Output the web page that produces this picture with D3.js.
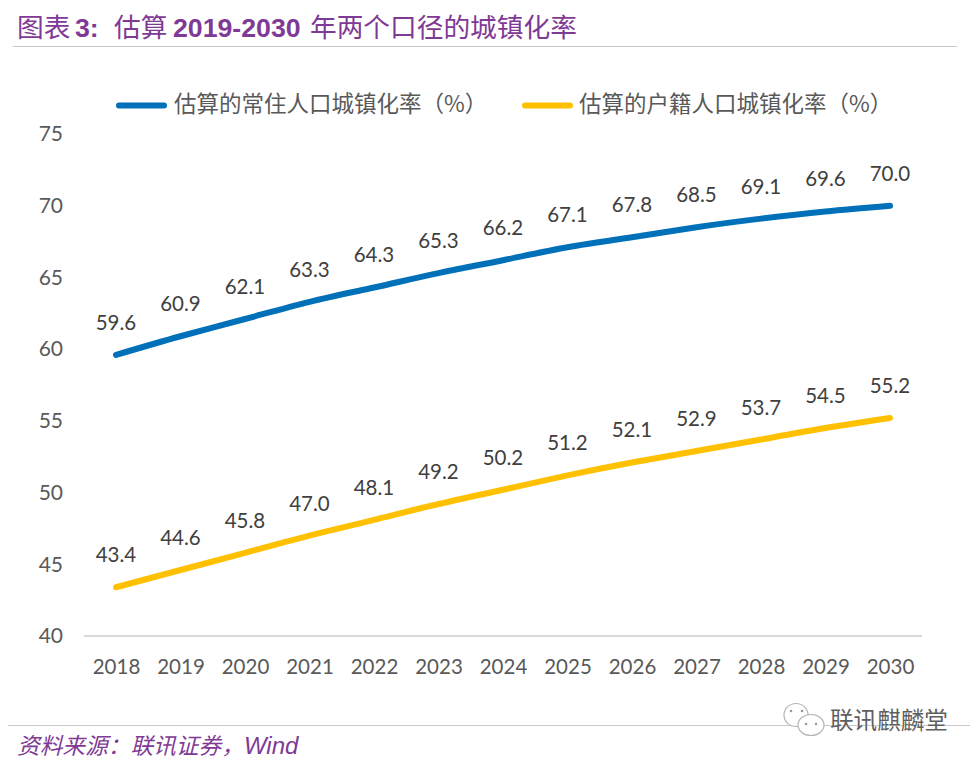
<!DOCTYPE html>
<html><head><meta charset="utf-8">
<script src="https://cdn.jsdelivr.net/npm/d3@7"></script>
<style>html,body{margin:0;padding:0;background:#fff}svg{display:block}</style>
</head><body><svg id="c" width="980" height="765"></svg>
<script>
const years=[2018,2019,2020,2021,2022,2023,2024,2025,2026,2027,2028,2029,2030];
const residentValues=[59.6,60.9,62.1,63.3,64.3,65.3,66.2,67.1,67.8,68.5,69.1,69.6,70.0];
const hukouValues=[43.4,44.6,45.8,47.0,48.1,49.2,50.2,51.2,52.1,52.9,53.7,54.5,55.2];
const yTicks=[40,45,50,55,60,65,70,75];
const residentName="估算的常住人口城镇化率（%）";
const hukouName="估算的户籍人口城镇化率（%）";

const svg=d3.select("#c");
const cjk='"Noto Sans CJK SC","Noto Sans",sans-serif';
const num='Lato,"Open Sans",sans-serif';
const purple="#7f3a96", grey="#595959";
const x=d3.scalePoint().domain(years).range([116,890]);
const y=d3.scaleLinear().domain([40,75]).range([636,134]);

// title
const t=svg.append("text").attr("y",37).attr("fill",purple).attr("font-size",26.7).attr("font-family",cjk);
const latin='"Liberation Sans"';
t.append("tspan").attr("x",17).text("图表");
t.append("tspan").attr("x",75).attr("font-family",latin).attr("font-weight","bold").text("3:");
t.append("tspan").attr("x",114).text("估算");
t.append("tspan").attr("x",173).attr("font-family",latin).attr("font-weight","bold").text("2019-2030");
t.append("tspan").attr("x",310).text("年两个口径的城镇化率");
svg.append("line").attr("x1",13).attr("x2",957).attr("y1",46.5).attr("y2",46.5).attr("stroke","#c8c8c8");

// axes
const yAxis=d3.axisLeft(y).tickValues(yTicks).tickSize(0).tickPadding(0);
const gy=svg.append("g").attr("transform","translate(63,0)").call(yAxis);
gy.select(".domain").remove();
gy.selectAll("text").attr("font-size",21).attr("font-family",num).attr("fill",grey);
svg.append("line").attr("x1",84).attr("x2",922).attr("y1",y(40)).attr("y2",y(40)).attr("stroke","#d9d9d9").attr("stroke-width",2);
const xAxis=d3.axisBottom(x).tickSize(0).tickPadding(0).tickFormat(d3.format("d"));
const gx=svg.append("g").attr("transform","translate(0,658)").call(xAxis);
gx.select(".domain").remove();
gx.selectAll("text").attr("font-size",20.5).attr("font-family",num).attr("fill",grey).attr("dy","0.8em");

// lines
const line=d3.line().x((d,i)=>x(years[i])).y(d=>y(d)).curve(d3.curveNatural);
[[residentValues,"#0070b9"],[hukouValues,"#ffc000"]].forEach(([vals,c])=>{
  svg.append("path").attr("d",line(vals)).attr("fill","none").attr("stroke",c).attr("stroke-width",6).attr("stroke-linecap","round");
  svg.append("g").selectAll("text").data(vals).join("text")
    .attr("x",(d,i)=>x(years[i])).attr("y",d=>y(d)-25)
    .attr("text-anchor","middle").attr("font-size",20.5).attr("font-family",num).attr("fill","#404040")
    .text(d=>d.toFixed(1));
});

// legend
[[119,174,residentName,"#0070b9"],[525,579,hukouName,"#ffc000"]].forEach(([x0,tx,name,c])=>{
  svg.append("line").attr("x1",x0).attr("x2",x0+45).attr("y1",105.5).attr("y2",105.5).attr("stroke",c).attr("stroke-width",6).attr("stroke-linecap","round");
  svg.append("text").attr("x",tx).attr("y",112).attr("font-size",22.5).attr("font-family",cjk).attr("fill",grey).text(name);
});

// source
svg.append("line").attr("x1",8).attr("x2",970).attr("y1",725.5).attr("y2",725.5).attr("stroke","#c8c8c8");
const s=svg.append("text").attr("x",17).attr("y",754).attr("fill",purple).attr("font-size",22.7).attr("font-style","italic").attr("font-family",cjk);
s.append("tspan").text("资料来源：联讯证券，");
s.append("tspan").attr("font-family",latin).attr("font-size",24).text("Wind");

// watermark
const w=svg.append("g").attr("fill","#fff").attr("stroke","#b5b5b5").attr("stroke-width",1.2);
w.append("ellipse").attr("cx",796).attr("cy",715).attr("rx",12).attr("ry",11.5);
w.append("ellipse").attr("cx",811).attr("cy",725).attr("rx",13).attr("ry",10.5);
const eyes=svg.append("g").attr("fill","#999");
[[791,711],[802,711],[806,724],[816,724]].forEach(([cx,cy])=>eyes.append("circle").attr("cx",cx).attr("cy",cy).attr("r",1.3));
svg.append("text").attr("x",830).attr("y",729).attr("font-size",23.6).attr("font-family",cjk).attr("fill","#5f5f5f").attr("stroke","#fff").attr("stroke-width",0.5).attr("paint-order","stroke").text("联讯麒麟堂");
</script></body></html>
